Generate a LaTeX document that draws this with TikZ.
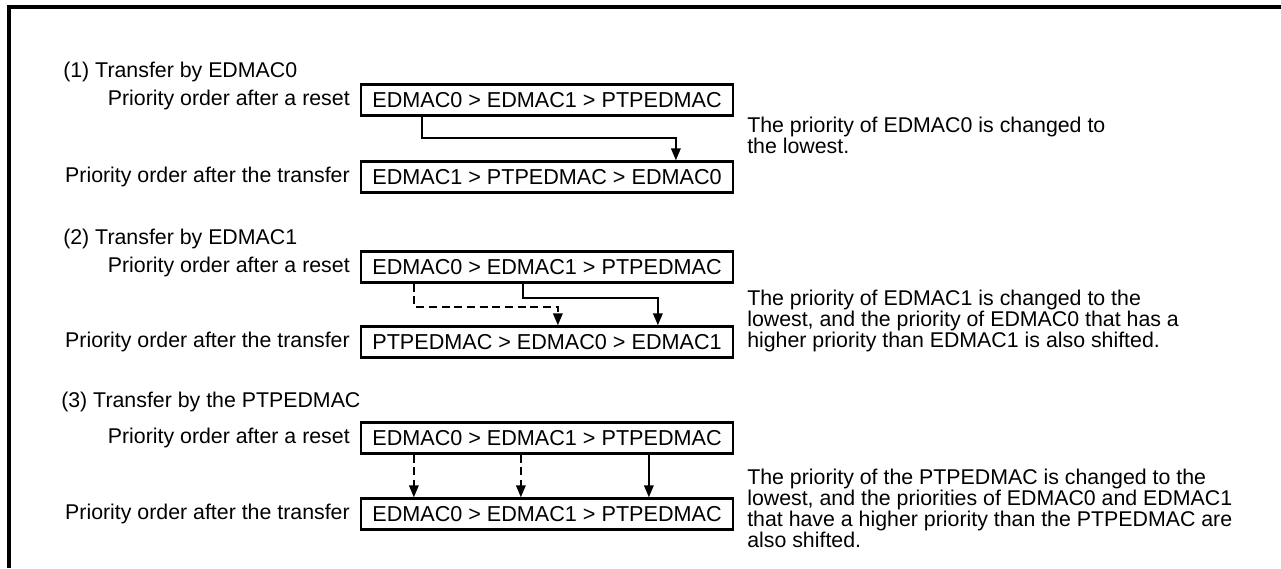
\documentclass[tikz,border=0pt]{standalone}
\usepackage{fontspec}
\setmainfont{Liberation Sans}
\usetikzlibrary{arrows.meta,calc}
\begin{document}
\begin{tikzpicture}[x=0.75pt,y=-0.75pt,
  txt/.style={font=\fontsize{16}{15.75}\selectfont, inner sep=0pt},
  order/.style={draw, line width=1.7pt, minimum width=279pt, minimum height=23.25pt, inner sep=0pt, font=\fontsize{16.2}{16}\selectfont},
  lbl/.style={txt, anchor=east},
  hdr/.style={txt, anchor=west},
  note/.style={txt, anchor=west, align=left},
  arr/.style={line width=1.7pt, -{Triangle[length=9pt,width=7pt]}},
  dsh/.style={dash pattern=on 6pt off 3.5pt}]
\useasboundingbox (0,0) rectangle (1281,568);
\coordinate (tl) at (9,7);
\coordinate (tr) at (1281,7);
\coordinate (bl) at (9,568);
\draw[line width=2.6pt] (tr) -- (tl) -- (bl);

% Section 1
\node[hdr] (h1) at (63,72) {(1) Transfer by EDMAC0};
\node[order] (b1a) at (547,100) {EDMAC0 > EDMAC1 > PTPEDMAC};
\node[order] (b1b) at (547,177) {EDMAC1 > PTPEDMAC > EDMAC0};
\node[lbl] (l1a) at (350,100) {Priority order after a reset};
\node[lbl] (l1b) at (350,177) {Priority order after the transfer};
\node[note] (n1) at (747,135) {The priority of EDMAC0 is changed to\\the lowest.};
\draw[arr] ($(b1a.south west)+(62,0)$) -- ++(0,21) -| ($(b1b.north west)+(316,0)$);

% Section 2
\node[hdr] (h2) at (63,239) {(2) Transfer by EDMAC1};
\node[order] (b2a) at (547,267) {EDMAC0 > EDMAC1 > PTPEDMAC};
\node[order] (b2b) at (547,342) {PTPEDMAC > EDMAC0 > EDMAC1};
\node[lbl] (l2a) at (350,267) {Priority order after a reset};
\node[lbl] (l2b) at (350,342) {Priority order after the transfer};
\node[note] (n2) at (747,321) {The priority of EDMAC1 is changed to the\\lowest, and the priority of EDMAC0 that has a\\higher priority than EDMAC1 is also shifted.};
\draw[arr,dsh] ($(b2a.south west)+(54,0)$) -- ++(0,23) -| ($(b2b.north west)+(198,0)$);
\draw[arr] ($(b2a.south west)+(163,0)$) -- ++(0,14) -| ($(b2b.north west)+(298,0)$);

% Section 3
\node[hdr] (h3) at (61,402) {(3) Transfer by the PTPEDMAC};
\node[order] (b3a) at (547,438) {EDMAC0 > EDMAC1 > PTPEDMAC};
\node[order] (b3b) at (547,514) {EDMAC0 > EDMAC1 > PTPEDMAC};
\node[lbl] (l3a) at (350,438) {Priority order after a reset};
\node[lbl] (l3b) at (350,514) {Priority order after the transfer};
\node[note] (n3) at (747,508) {The priority of the PTPEDMAC is changed to the\\lowest, and the priorities of EDMAC0 and EDMAC1\\that have a higher priority than the PTPEDMAC are\\also shifted.};
\draw[arr,dsh] ($(b3a.south west)+(54,0)$) -- ($(b3b.north west)+(54,0)$);
\draw[arr,dsh] ($(b3a.south west)+(161,0)$) -- ($(b3b.north west)+(161,0)$);
\draw[arr] ($(b3a.south west)+(289,0)$) -- ($(b3b.north west)+(289,0)$);
\end{tikzpicture}
\end{document}
